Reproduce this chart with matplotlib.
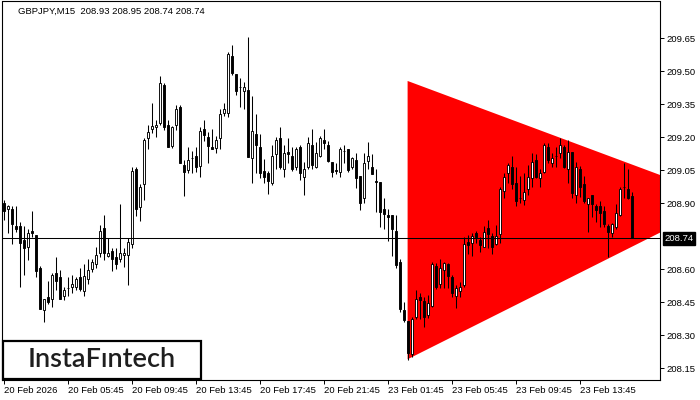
import matplotlib
matplotlib.use("Agg")
import matplotlib.pyplot as plt
from matplotlib.patches import Polygon, Rectangle
import numpy as np

# ---------------- data ----------------
symbol_title = "GBPJPY,M15  208.93 208.95 208.74 208.74"
current_price = 208.74

opens = [208.900, 208.873, 208.873, 208.796, 208.796, 208.732, 208.700, 208.773, 208.755, 208.605,
         208.414, 208.473, 208.464, 208.582, 208.564, 208.478, 208.514, 208.518, 208.518, 208.564,
         208.500, 208.555, 208.600, 208.623, 208.673, 208.787, 208.659, 208.682, 208.655, 208.646,
         208.664, 208.664, 208.714, 209.055, 208.882, 208.987, 209.196, 209.237, 209.246, 209.264,
         209.437, 209.255, 209.159, 209.255, 209.337, 209.073, 209.050, 209.105, 209.114, 209.068,
         209.237, 209.200, 209.155, 209.150, 209.196, 209.309, 209.309, 209.568, 209.487, 209.428,
         209.409, 209.414, 209.105, 209.214, 209.155, 209.046, 209.037, 208.991, 209.123, 209.196,
         209.055, 209.132, 209.114, 209.064, 209.155, 209.018, 209.064, 209.164, 209.064, 209.114,
         209.187, 209.164, 209.087, 209.050, 209.041, 209.137, 209.146, 209.064, 209.096, 209.023,
         208.923, 209.091, 209.064, 209.000, 208.996, 208.873, 208.846, 208.846, 208.773, 208.632,
         208.414, 208.364, 208.214, 208.382, 208.473, 208.455, 208.391, 208.432, 208.614, 208.532,
         208.596, 208.623, 208.564, 208.478, 208.500, 208.528, 208.723, 208.718, 208.764, 208.732,
         208.700, 208.787, 208.750, 208.714, 208.759, 208.955, 209.037, 209.064, 208.991, 208.923,
         208.914, 208.964, 209.014, 209.096, 209.014, 209.041, 209.155, 209.082, 209.114, 209.128,
         209.155, 209.055, 209.132, 208.937, 209.055, 208.987, 208.896, 208.937, 208.887, 208.887,
         208.864, 208.796, 208.764, 208.791, 208.846, 208.973, 208.964, 208.930]

highs = [208.914, 208.891, 208.887, 208.887, 208.814, 208.796, 208.782, 208.864, 208.755, 208.614,
         208.464, 208.546, 208.582, 208.655, 208.596, 208.518, 208.564, 208.573, 208.564, 208.605,
         208.623, 208.646, 208.646, 208.700, 208.800, 208.846, 208.741, 208.696, 208.696, 208.896,
         208.696, 208.741, 209.064, 209.064, 208.987, 209.196, 209.255, 209.355, 209.278, 209.477,
         209.446, 209.278, 209.250, 209.346, 209.346, 209.096, 209.155, 209.137, 209.155, 209.246,
         209.278, 209.223, 209.237, 209.205, 209.328, 209.355, 209.587, 209.618, 209.487, 209.468,
         209.450, 209.655, 209.387, 209.305, 209.214, 209.100, 209.046, 209.164, 209.200, 209.246,
         209.164, 209.196, 209.155, 209.155, 209.164, 209.087, 209.200, 209.237, 209.178, 209.205,
         209.237, 209.182, 209.087, 209.082, 209.155, 209.164, 209.146, 209.109, 209.128, 209.023,
         209.128, 209.178, 209.123, 209.055, 208.996, 208.923, 208.873, 208.846, 208.846, 208.646,
         208.450, 208.364, 208.382, 208.505, 208.491, 208.473, 208.482, 208.632, 208.628, 208.646,
         208.632, 208.628, 208.573, 208.528, 208.541, 208.746, 208.755, 208.764, 208.773, 208.746,
         208.796, 208.823, 208.764, 208.800, 208.973, 209.037, 209.082, 209.114, 209.064, 209.023,
         209.037, 209.073, 209.128, 209.123, 209.055, 209.173, 209.173, 209.128, 209.155, 209.196,
         209.164, 209.187, 209.132, 209.087, 209.068, 209.023, 208.923, 208.937, 208.896, 208.909,
         208.887, 208.805, 208.809, 208.896, 208.973, 209.082, 209.055, 208.950]

lows = [208.823, 208.764, 208.714, 208.768, 208.518, 208.573, 208.641, 208.746, 208.564, 208.418,
        208.359, 208.441, 208.428, 208.505, 208.464, 208.459, 208.478, 208.491, 208.505, 208.500,
        208.478, 208.532, 208.587, 208.605, 208.655, 208.641, 208.655, 208.591, 208.600, 208.632,
        208.609, 208.528, 208.696, 208.841, 208.818, 208.914, 209.146, 209.218, 209.200, 209.255,
        209.232, 209.155, 209.150, 209.232, 209.082, 208.932, 209.037, 209.037, 209.041, 209.018,
        209.182, 209.082, 209.146, 209.128, 209.146, 209.296, 209.291, 209.482, 209.391, 209.337,
        209.328, 209.109, 208.991, 209.037, 209.014, 208.991, 208.941, 208.982, 209.055, 209.055,
        209.018, 209.082, 209.046, 209.050, 209.005, 208.937, 209.055, 209.055, 209.059, 209.109,
        209.146, 209.087, 209.018, 209.032, 209.018, 209.082, 209.041, 209.055, 208.968, 208.868,
        208.900, 209.055, 209.032, 208.859, 208.791, 208.782, 208.728, 208.659, 208.605, 208.405,
        208.359, 208.187, 208.200, 208.373, 208.373, 208.337, 208.378, 208.428, 208.509, 208.514,
        208.514, 208.514, 208.473, 208.423, 208.473, 208.518, 208.668, 208.659, 208.718, 208.677,
        208.700, 208.696, 208.668, 208.709, 208.718, 208.923, 208.991, 208.964, 208.887, 208.900,
        208.891, 208.937, 208.973, 209.014, 208.973, 209.037, 209.082, 209.064, 209.064, 209.105,
        209.059, 208.991, 208.923, 208.900, 208.928, 208.900, 208.768, 208.837, 208.814, 208.791,
        208.791, 208.655, 208.746, 208.782, 208.841, 208.923, 208.918, 208.740]

closes = [208.864, 208.887, 208.805, 208.782, 208.718, 208.696, 208.764, 208.764, 208.591, 208.418,
          208.464, 208.450, 208.573, 208.546, 208.464, 208.505, 208.512, 208.532, 208.555, 208.509,
          208.568, 208.596, 208.632, 208.664, 208.773, 208.673, 208.673, 208.646, 208.623, 208.673,
          208.673, 208.723, 209.046, 208.873, 208.973, 209.187, 209.223, 209.250, 209.255, 209.446,
          209.246, 209.155, 209.246, 209.328, 209.082, 209.041, 209.096, 209.103, 209.064, 209.228,
          209.209, 209.159, 209.146, 209.187, 209.305, 209.328, 209.578, 209.491, 209.409, 209.426,
          209.428, 209.109, 209.228, 209.164, 209.037, 209.018, 209.000, 209.114, 209.187, 209.064,
          209.128, 209.123, 209.055, 209.146, 209.037, 209.055, 209.173, 209.073, 209.128, 209.196,
          209.173, 209.091, 209.041, 209.048, 209.146, 209.135, 209.050, 209.105, 209.014, 208.900,
          209.082, 209.114, 209.032, 208.998, 208.859, 208.850, 208.837, 208.782, 208.618, 208.418,
          208.368, 208.219, 208.373, 208.464, 208.459, 208.382, 208.446, 208.623, 208.518, 208.605,
          208.628, 208.568, 208.491, 208.514, 208.518, 208.714, 208.709, 208.750, 208.746, 208.709,
          208.768, 208.759, 208.700, 208.750, 208.964, 209.018, 209.073, 208.987, 208.909, 208.921,
          208.950, 209.018, 209.087, 209.018, 209.037, 209.164, 209.096, 209.105, 209.112, 209.164,
          209.064, 209.132, 208.946, 209.064, 208.973, 208.909, 208.923, 208.896, 208.868, 208.855,
          208.805, 208.768, 208.805, 208.855, 208.964, 208.971, 208.923, 208.740]

# time axis labels (every 16 bars of M15)
time_tick_bars = [0, 16, 32, 48, 64, 80, 96, 112, 128, 144]
time_tick_labels = ["20 Feb 2026", "20 Feb 05:45", "20 Feb 09:45", "20 Feb 13:45",
                    "20 Feb 17:45", "20 Feb 21:45", "23 Feb 01:45", "23 Feb 05:45",
                    "23 Feb 09:45", "23 Feb 13:45"]

# price scale labels (the 208.75 level is hidden behind the current-price tag)
price_ticks = [208.15, 208.30, 208.45, 208.60, 208.90, 209.05, 209.20, 209.35, 209.50, 209.65]

# symmetric triangle object: (bar index, price)
triangle_bars = [101, 101, 180.6]
triangle_prices = [209.455, 208.190, 208.916]

# ---------------- figure ----------------
W, H = 700, 400
fig = plt.figure(figsize=(W / 100, H / 100), dpi=100)
left_px, right_px, top_px, bottom_px = 1.5, 660, 1.5, 380
ax = fig.add_axes([left_px / W, 1 - bottom_px / H, (right_px - left_px) / W, (bottom_px - top_px) / H])

n = len(opens)
x = np.arange(n)
o = np.array(opens); h = np.array(highs); l = np.array(lows); c = np.array(closes)

# triangle
tri = Polygon(list(zip(triangle_bars, triangle_prices)), closed=True,
              facecolor="#FF0000", edgecolor="none", zorder=1)
ax.add_patch(tri)

# wicks
ax.vlines(x, l, h, color="black", linewidth=0.75, zorder=2)

# bodies
up = c >= o
bottoms = np.minimum(o, c)
heights = np.maximum(np.abs(c - o), 0.0012)
ax.bar(x[up], heights[up], bottom=bottoms[up], width=0.52, color="white",
       edgecolor="black", linewidth=0.65, zorder=3)
ax.bar(x[~up], heights[~up], bottom=bottoms[~up], width=0.52, color="black",
       edgecolor="black", linewidth=0.65, zorder=3)

# current price line
ax.axhline(current_price, color="black", linewidth=0.75, zorder=4)

px_per_bar = 4.0
x0 = (left_px - 3.6) / px_per_bar
ax.set_xlim(x0, x0 + (right_px - left_px) / px_per_bar)
ax.set_ylim(209.823 - bottom_px / 220.0, 209.823 - top_px / 220.0)

font = "Liberation Sans"
fs = 6.8

ax.yaxis.tick_right()
ax.set_yticks(price_ticks)
ax.set_yticklabels([f"{p:.2f}" for p in price_ticks], fontsize=fs, family=font)
ax.tick_params(axis="y", direction="out", length=3, width=0.7, pad=1.5, colors="black")

ax.set_xticks(time_tick_bars)
ax.set_xticklabels(time_tick_labels, fontsize=fs, family=font)
for lbl in ax.get_xticklabels():
    lbl.set_horizontalalignment("left")
ax.tick_params(axis="x", direction="out", length=3, width=0.7, pad=1.5, colors="black")

for sp in ax.spines.values():
    sp.set_linewidth(0.8)
    sp.set_color("black")

# current price label on the axis
ax.annotate(f"{current_price:.2f}", xy=(1.0, current_price),
            xycoords=("axes fraction", "data"), xytext=(3.2, 0), textcoords="offset points",
            ha="left", va="center", fontsize=fs, family=font, color="white",
            bbox=dict(boxstyle="square,pad=0.2", fc="black", ec="black"), zorder=10,
            annotation_clip=False)

# title
fig.text(18 / W, 1 - 11 / H, symbol_title, fontsize=fs, family=font, color="black",
         ha="left", va="center")

# logo box
box = Rectangle((3 / W, 1 - 379 / H), 198 / W, 38 / H, transform=fig.transFigure,
                facecolor="white", edgecolor="black", linewidth=1.6, zorder=20)
fig.patches.append(box)
fig.text(102 / W, 1 - 359.5 / H, "InstaF\u0131ntech", fontsize=19.5, family="Lato",
         fontweight="semibold", color="#1e1e1e", ha="center", va="center", zorder=21)

fig.savefig("out.png", dpi=100)
